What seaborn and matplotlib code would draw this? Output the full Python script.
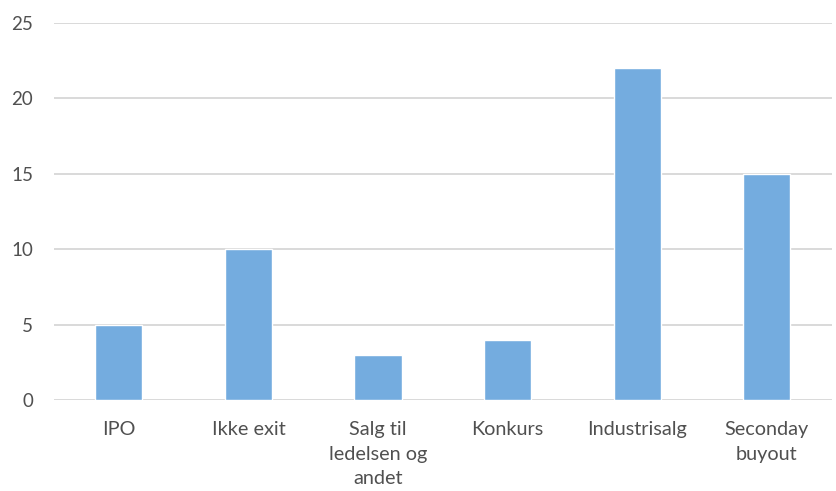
import matplotlib
matplotlib.use("Agg")
import matplotlib.pyplot as plt
import seaborn as sns
import pandas as pd

categories = ["IPO", "Ikke exit", "Salg til\nledelsen og\nandet", "Konkurs", "Industrisalg", "Seconday\nbuyout"]
values = [5, 10, 3, 4, 22, 15]
y_ticks = [0, 5, 10, 15, 20, 25]

sns.set_theme(style="white")
plt.rcParams["font.family"] = ["Lato", "DejaVu Sans"]

df = pd.DataFrame({"kategori": categories, "antall": values})

fig = plt.figure(figsize=(8.37, 4.91), dpi=100)
ax = fig.add_axes([0.0645, 0.185, 0.929, 0.768])

sns.barplot(data=df, x="kategori", y="antall", color="#74ACDF", saturation=1,
            width=0.365, ax=ax, zorder=3)

ax.set_ylim(0, 25)
ax.set_yticks(y_ticks)
ax.set_xlim(-0.5, len(categories) - 0.5)
ax.yaxis.grid(True, color="#D9D9D9", linewidth=1.4, zorder=0)
ax.set_axisbelow(True)
for s in ax.spines.values():
    s.set_visible(False)
ax.set_xlabel("")
ax.set_ylabel("")
ax.tick_params(axis="both", length=0, labelsize=13.5, colors="#505050")
ax.tick_params(axis="x", labelsize=14.3)
ax.tick_params(axis="y", pad=15)
ax.tick_params(axis="x", pad=15)
for lbl in ax.get_xticklabels():
    lbl.set_linespacing(1.55)
    lbl.set_verticalalignment("top")

fig.savefig("out.png", dpi=100)
